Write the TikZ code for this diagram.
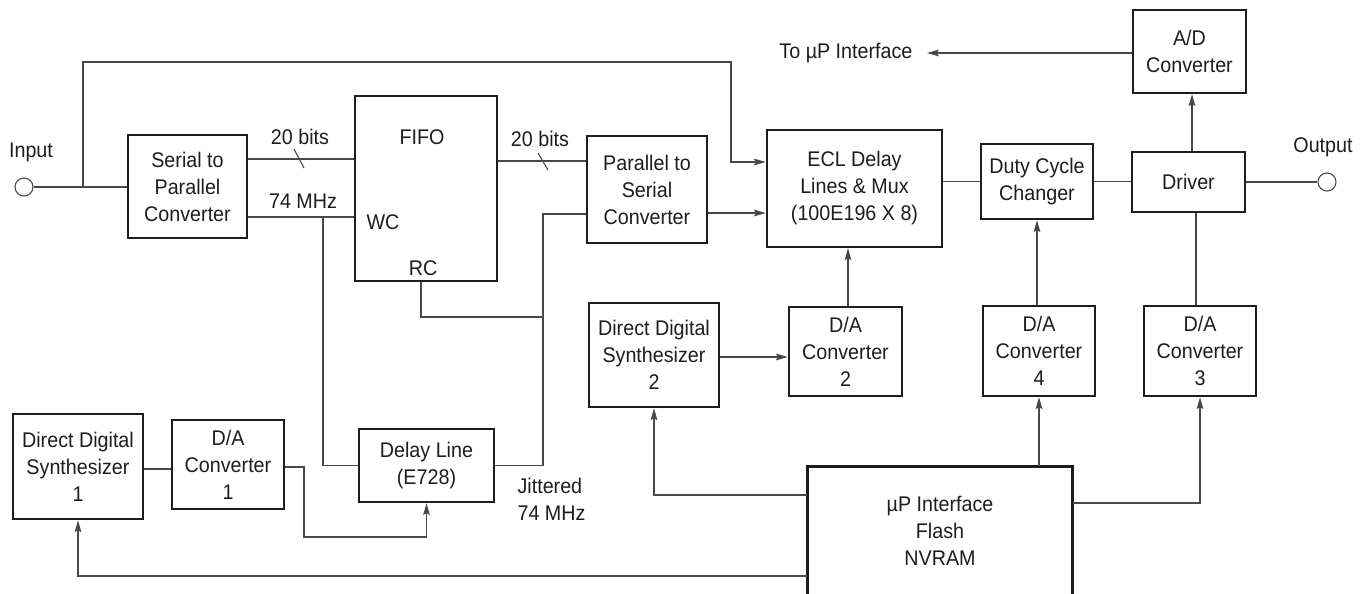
\documentclass[tikz,border=0pt]{standalone}
\usepackage{fontspec}
\setmainfont{Liberation Sans}[FakeStretch=0.93]
\usetikzlibrary{arrows.meta,calc,positioning}
\definecolor{fg}{RGB}{30,28,29}
\definecolor{wr}{RGB}{72,72,72}
\tikzset{
  every picture/.style={fg, line width=0.55pt,
    >={Stealth[length=6pt,width=3.4pt,inset=1.2pt]}},
  every node/.style={font=\fontsize{10.6}{13.5}\selectfont, inner sep=0pt},
  % Bloecke
  blk/.style 2 args={draw=fg, line width=1.25pt, align=center,
    minimum width=#1*0.5pt, minimum height=#2*0.5pt},
  % Leitungen
  wire/.style={wr, line width=0.55pt},
  port/.style={circle, draw=wr, line width=0.55pt, fill=white, minimum size=9pt},
}

\begin{document}
\begin{tikzpicture}[x=0.5pt, y=-0.5pt]
  \useasboundingbox (0,0) rectangle (1371,594);
  % Bloecke
  \node[blk={119}{103}] (sp) at (187.5,186.5) {Serial to\\Parallel\\Converter};
  \node[blk={142}{185}] (fifo) at (426,188.5) {};
  \node[blk={120}{107}] (ps) at (647,189.5) {Parallel to\\Serial\\Converter};
  \node[blk={175}{117}] (ecl) at (854.5,188.5) {ECL Delay\\Lines \& Mux\\(100E196 X 8)};
  \node[blk={112}{75}] (duty) at (1037,181.5) {Duty Cycle\\Changer};
  \node[blk={113}{60}] (drv) at (1188.5,182) {Driver};
  \node[blk={113}{83}] (adc) at (1189.5,51.5) {A/D\\Converter};
  \node[blk={130}{104}] (dds2) at (654,355) {Direct Digital\\Synthesizer\\2};
  \node[blk={113}{89}] (da2) at (845.5,351.5) {D/A\\Converter\\2};
  \node[blk={112}{90}] (da4) at (1039,351) {D/A\\Converter\\4};
  \node[blk={112}{90}] (da3) at (1200,351) {D/A\\Converter\\3};
  \node[blk={130}{105}] (dds1) at (78,466.5) {Direct Digital\\Synthesizer\\1};
  \node[blk={112}{89}] (da1) at (228,464.5) {D/A\\Converter\\1};
  \node[blk={135}{73}] (dly) at (426.5,465.5) {Delay Line\\(E728)};
  % uP-Block, unten offen
  \node[align=center, minimum width=132pt, minimum height=64pt] (up) at (940,531) {µP Interface\\Flash\\NVRAM};
  \draw[line width=1.25pt] ($(up.south west)+(0,20)$) -- (up.north west) -- (up.north east) -- ($(up.south east)+(0,20)$);
  % Anschluesse
  \node[port] (inp) at (24,187) {};
  \node[port] (outp) at (1327,182) {};
  % Beschriftung
  \node (inlbl) at (31,152) {Input};
  \node (outlbl) at (1323,147) {Output};
  \node (fifolbl) at (422,137) {FIFO};
  \node[anchor=west] (wc) at (366,222) {WC};
  \node (rc) at (423,268) {RC};
  \node (bits1) at (300,137) {20 bits};
  \node (bits2) at (540,139) {20 bits};
  \node (clk) at (303,201) {74 MHz};
  \node[align=left, anchor=west] (jit) at (517,499.5) {Jittered\\74 MHz};
  \node[anchor=east, inner xsep=7pt] (tomp) at (927,53) {To µP Interface};
  % Verbindungen
  \coordinate (j1) at (83,187);
  \coordinate (j2) at (323,217);
  \coordinate (cj) at (543,214);
  \draw[wire] (inp) -- (sp.west |- inp);
  \draw[wire, ->] (j1) |- (731,62) |- ($(ecl.west)+(0,-26.5)$);
  \draw[wire] (sp.east |- 0,159) -- (fifo.west |- 0,159);
  \draw[wire] (299,159) +(-5,-10) -- +(5,9);
  \draw[wire] (sp.east |- 0,217) -- (fifo.west |- 0,217);
  \draw[wire] (j2) |- (dly.west);
  \draw[wire] (fifo.east |- 0,161) -- (ps.west |- 0,161);
  \draw[wire] (543,161) +(-5,-8) -- +(5,9);
  \draw[wire] (fifo.south -| 421,0) |- (cj |- 0,317);
  \draw[wire] (dly.east) -| (cj) -- (cj -| ps.west);
  \draw[wire, ->] (ps.east |- 0,213) -- (ecl.west |- 0,213);
  \draw[wire] (ecl.east |- duty.west) -- (duty.west);
  \draw[wire] (duty.east) -- (drv.west |- duty.east);
  \draw[wire] (drv.east) -- (outp);
  \draw[wire, ->] (drv.north -| 1192,0) -- (adc.south -| 1192,0);
  \draw[wire, ->] (adc.west |- tomp.east) -- (tomp.east);
  \draw[wire, ->] (da2.north -| 848,0) -- (ecl.south -| 848,0);
  \draw[wire, ->] (da4.north -| 1037,0) -- (duty.south -| 1037,0);
  \draw[wire] (da3.north -| 1196,0) -- (drv.south -| 1196,0);
  \draw[wire, ->] (dds2.east |- 0,357) -- (da2.west |- 0,357);
  \draw[wire, ->] (up.west |- 0,495) -| (dds2.south);
  \draw[wire, ->] (up.north -| da4.south) -- (da4.south);
  \draw[wire, ->] (up.east |- 0,503) -| (da3.south);
  \draw[wire, ->] (up.west |- 0,576) -| (dds1.south);
  \draw[wire] (dds1.east |- 0,469) -- (da1.west |- 0,469);
  \draw[wire, ->] (da1.east |- 0,467) -| (304,537) -| (dly.south);
\end{tikzpicture}
\end{document}
